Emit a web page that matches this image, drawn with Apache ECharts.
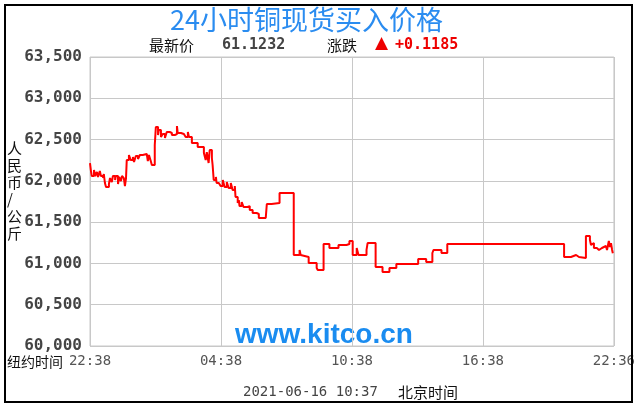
<!DOCTYPE html>
<html><head><meta charset="utf-8">
<script src="https://cdn.jsdelivr.net/npm/echarts@6/dist/echarts.min.js"></script>
<style>html,body{margin:0;padding:0;background:#fff}#c{width:638px;height:409px}</style>
</head><body><div id="c"></div>
<script>
// minutes since 22:38 (New York time) and copper price (CNY/kg)
var minutes = [0,3,5,11,14,19,22,27,30,36,38,41,44,52,55,60,63,69,71,77,80,85,88,93,96,99,
  101,107,112,118,121,126,132,137,145,156,159,162,167,170,178,181,187,189,195,200,206,211,219,225,233,
  239,241,250,258,263,269,272,280,296,313,318,321,326,329,335,337,340,346,348,354,359,365,370,376,381,
  387,392,398,400,406,409,411,417,422,433,439,447,458,464,483,486,499,521,560,576,579,584,601,623,626,
  642,658,683,705,713,722,733,738,760,763,785,804,823,842,902,924,941,944,966,982,1303,1322,1336,1344,
  1363,1374,1377,1382,1385,1393,1399,1407,1418,1421,1426,1429,1432,1435,1437];
var prices = [62216,62107,62059,62131,62059,62107,62047,62119,62059,62034,62083,61974,61925,61962,62034,61986,62059,62010,62059,61962,62047,61998,62059,62034,61937,62034,
  62252,62313,62252,62289,62228,62301,62264,62313,62325,62301,62240,62313,62240,62192,62434,62652,62555,62616,62531,62567,62519,62592,62580,62555,62567,
  62664,62580,62567,62580,62531,62592,62531,62458,62410,62337,62252,62349,62216,62374,62277,62192,62010,62047,61974,61998,61937,62010,61925,61986,61913,
  61974,61889,61937,61804,61732,61768,61695,61744,61683,61695,61647,61611,61599,61550,61574,61720,61732,61853,61102,61163,61102,61078,61005,60945,60920,
  61235,61187,61223,61235,61272,61102,61187,61102,61163,61247,60957,60896,60945,60993,61054,61017,61126,61163,61126,61235,61078,61102,61078,61066,
  61332,61284,61223,61247,61187,61163,61187,61211,61187,61163,61272,61199,61247,61163,61123];
var xTickLabels = ['22:38','04:38','10:38','16:38','22:36'];
var yTickLabels = ['60,000','60,500','61,000','61,500','62,000','62,500','63,000','63,500'];
var titleText = '24小时铜现货买入价格';
var latestLabel = '最新价', latestValue = '61.1232', changeLabel = '涨跌', changeValue = '+0.1185';
var dateText = '2021-06-16 10:37', bjLabel = '北京时间', nyLabel = '纽约时间', unitText = '人民币/公斤';

var data = minutes.map(function(m,i){return [m, prices[i]];});
var chart = echarts.init(document.getElementById('c'), null, {renderer:'canvas'});
var mono = '"DejaVu Sans Mono", monospace';
var cjk = '"Noto Sans CJK SC", sans-serif';
chart.setOption({
  animation:false,
  backgroundColor:'#fff',
  grid:{left:90, top:57, right:23, bottom:63, show:true, borderColor:'#c8c8c8', borderWidth:1},
  xAxis:{type:'value', min:0, max:1440, interval:360,
    axisLine:{show:false}, axisTick:{show:false},
    splitLine:{show:true, lineStyle:{color:'#c8c8c8', width:1}},
    axisLabel:{margin:8, color:'#555', fontFamily:mono, fontSize:14,
      formatter:function(v){return xTickLabels[Math.round(v/360)];}}},
  yAxis:{type:'value', min:60000, max:63500, interval:500,
    axisLine:{show:false}, axisTick:{show:false},
    splitLine:{show:true, lineStyle:{color:'#c8c8c8', width:1}},
    axisLabel:{margin:8, color:'#444', fontFamily:mono, fontWeight:'bold', fontSize:16,
      formatter:function(v){return yTickLabels[Math.round((v-60000)/500)];}}},
  series:[{type:'line', step:'end', data:data, showSymbol:false, symbol:'none',
    lineStyle:{color:'#ff0000', width:2}}],
  graphic:[
    {type:'rect', shape:{x:5,y:5,width:627,height:397}, style:{fill:'none', stroke:'#000', lineWidth:2}, z:100},
    {type:'text', x:170, y:20, style:{text:titleText, fill:'#2a8cf0', font:'27px '+cjk, verticalAlign:'middle'}},
    {type:'text', x:149, y:45, style:{text:latestLabel, fill:'#111', font:'15px '+cjk, verticalAlign:'middle'}},
    {type:'text', x:222, y:45, style:{text:latestValue, fill:'#444', font:'bold 15px '+mono, verticalAlign:'middle'}},
    {type:'text', x:327, y:45, style:{text:changeLabel, fill:'#111', font:'15px '+cjk, verticalAlign:'middle'}},
    {type:'text', x:375, y:44, style:{text:'▲', fill:'#ee0000', font:'17px "DejaVu Sans", sans-serif', verticalAlign:'middle'}},
    {type:'text', x:395, y:45, style:{text:changeValue, fill:'#ee0000', font:'bold 15px '+mono, verticalAlign:'middle'}},
    {type:'text', x:235, y:335, style:{text:'www.kitco.cn', fill:'#1a8cf0', font:'bold 28px "Liberation Sans", Arial, sans-serif', verticalAlign:'middle'}},
    {type:'text', x:7, y:362, style:{text:nyLabel, fill:'#111', font:'14px '+cjk, verticalAlign:'middle'}},
    {type:'text', x:243, y:392, style:{text:dateText, fill:'#444', font:'14px '+mono, verticalAlign:'middle'}},
    {type:'text', x:398, y:392, style:{text:bjLabel, fill:'#111', font:'15px '+cjk, verticalAlign:'middle'}},
    {type:'text', x:7, y:140, style:{text:unitText.split('').join('\n'), fill:'#111', font:'15px '+cjk, lineHeight:17}}
  ]
});
</script></body></html>
